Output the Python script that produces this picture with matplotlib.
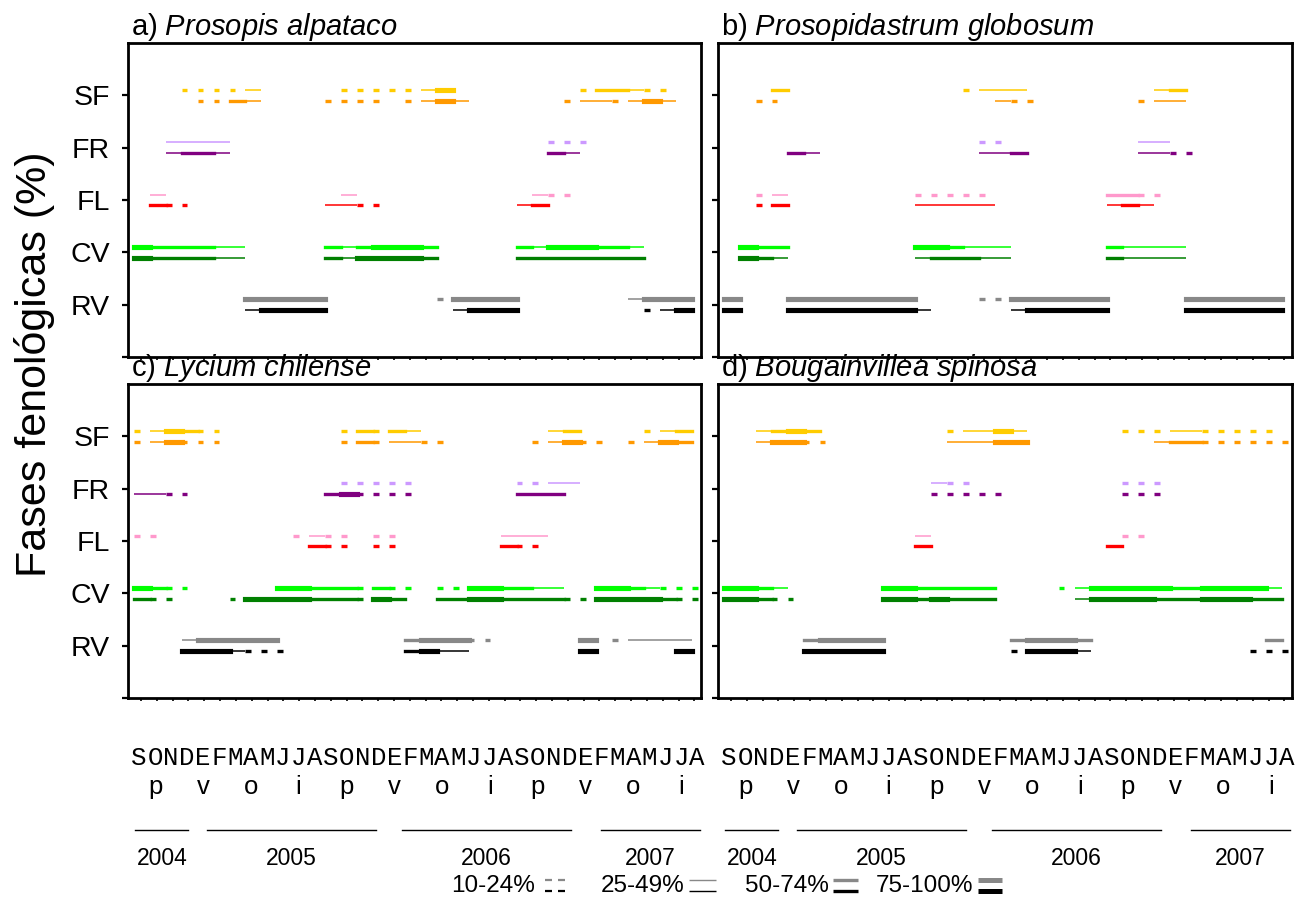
import numpy as np
import matplotlib
matplotlib.use("Agg")
import matplotlib.pyplot as plt
from matplotlib.lines import Line2D

plt.rcParams['font.family'] = ['Liberation Sans', 'DejaVu Sans']
plt.rcParams['mathtext.fontset'] = 'custom'
plt.rcParams['mathtext.rm'] = 'Liberation Sans'
plt.rcParams['mathtext.it'] = 'Liberation Sans:italic'

# ---------------- data ----------------
phases = ["RV", "CV", "FL", "FR", "SF"]
month_letters = list("SONDEFMAMJJASONDEFMAMJJASONDEFMAMJJA")
season_letters = ["p", "v", "o", "i"] * 3
years = ["2004", "2005", "2006", "2007"]
legend_labels = ["10-24%", "25-49%", "50-74%", "75-100%"]
panel_tags = ["a)", "b)", "c)", "d)"]
species = ["Prosopis alpataco", "Prosopidastrum globosum",
           "Lycium chilense", "Bougainvillea spinosa"]

# one character per monthly interval (Sep 2004 ... Aug 2007)
# '.' <10 %, '1' 10-24 %, '2' 25-49 %, '3' 50-74 %, '4' 75-100 %
# each phase: (upper line, lower line)
panel_a = {
    "SF": ("...111" "12...." ".11111" "24...." "....13" "3211..",
           "....11" "32...." "1111.1" "242..." "...122" "1242.."),
    "FR": ("..2222" "......" "......" "......" "..111." "......",
           "..2332" "......" "......" "......" "..32.." "......"),
    "FL": (".2...." "......" ".2...." "......" ".211.." "......",
           ".311.." "......" "2211.." "......" "23...." "......"),
    "CV": ("433332" "2....." "323444" "3....." "324443" "32....",
           "433332" "2....." "324444" "3....." "333333" "33...."),
    "RV": ("......" ".44444" "......" ".14444" "......" ".2444.",
           "......" ".24444" "......" "..2444" "......" "..124."),
}
panel_b = {
    "SF": ("...3.." "......" "...122" "2....." "...23." "......",
           "..11.." "......" ".....2" "11...." "..122." "......"),
    "FR": ("......" "......" "....11" "......" "..22.." "......",
           "....32" "......" "....22" "3....." "..2211" "......"),
    "FL": ("..12.." "......" "11111." "......" "3311.." "......",
           "..13.." "......" "22222." "......" "232..." "......"),
    "CV": (".433.." "......" "443222" "......" "32222." "......",
           ".432.." "......" "233322" "......" "32222." "......"),
    "RV": ("4...44" "444444" "....11" "444444" ".....4" "44444.",
           "4...44" "444444" "2....." "244444" ".....4" "44444."),
}
panel_c = {
    "SF": ("124311" "......" ".13132" "......" "..23.." "..123.",
           "124111" "......" ".13122" "11...." ".12411" ".1243."),
    "FR": ("......" "......" ".11111" "......" "1122.." "......",
           "2211.." "......" "341111" "......" "333..." "......"),
    "FL": ("11...." "....12" "11.11." ".....2" "22...." "......",
           "......" ".....3" "11.11." ".....3" "11...." "......"),
    "CV": ("4311.." "...443" "331311" ".11443" "322..4" "432111",
           "311..." "144443" "33143." ".33443" "333114" "444311"),
    "RV": ("...244" "444..." ".....3" "44411." "....4." "12222.",
           "...444" "2111.." ".....3" "422..." "....4." "....4."),
}
panel_d = {
    "SF": ("..2343" "......" "..1224" "2....." ".11122" "11111.",
           "..2441" "1....." "..2224" "4....." "...233" "111111"),
    "FR": ("......" "......" ".211.." "......" ".111.." "......",
           "......" "......" ".11111" "......" ".111.." "......"),
    "FL": ("......" "......" "2....." "......" ".11..." "......",
           "......" "......" "3....." "......" "3....." "......"),
    "CV": ("4432.." "....44" "33333." "...124" "444433" "44442.",
           "44311." "....44" "34333." "....24" "444333" "44433."),
    "RV": (".....3" "4444.." "......" "34443." "......" "....3.",
           ".....4" "4444.." "......" "14442." "......" "...111"),
}
panels = [panel_a, panel_b, panel_c, panel_d]

# ---------------- style ----------------
colors = {
    "SF": ("#FFCC00", "#FF9900"),
    "FR": ("#CC99FF", "#800080"),
    "FL": ("#FF99CC", "#FF0000"),
    "CV": ("#00FF00", "#008000"),
    "RV": ("#888888", "#000000"),
}
LW = {'2': 1.1, '3': 2.4, '4': 3.7}
DASH_LW = 2.4
DASH_LEN = 0.36
X_OFF = 0.4
ROW_OFF = 0.1

W, H = 1310, 898
fig = plt.figure(figsize=(W / 100, H / 100), dpi=100)

boxes = [(127.5, 43, 574, 314), (717.5, 43, 574, 314),
         (127.5, 384, 574, 314), (717.5, 384, 574, 314)]


def draw_row(ax, s, y, color):
    n = len(s)
    k = 0
    while k < n:
        c = s[k]
        if c == '.':
            k += 1
            continue
        if c == '1':
            x0 = k + X_OFF
            ax.plot([x0, x0 + DASH_LEN], [y, y], color=color, lw=DASH_LW,
                    solid_capstyle='butt')
            k += 1
            continue
        j = k
        while j < n and s[j] == c:
            j += 1
        ax.plot([k + X_OFF, j + X_OFF], [y, y], color=color, lw=LW[c],
                solid_capstyle='butt' if c == '2' else 'projecting')
        k = j


year_rule = [(0.5, 3.8), (5.0, 15.6), (17.2, 27.8), (29.7, 35.9)]
Y_MONTH, Y_SEASON, Y_RULE, Y_YEAR = -0.191, -0.283, -0.420, -0.510

for idx, (data, box) in enumerate(zip(panels, boxes)):
    l, t, w, h = box
    ax = fig.add_axes([l / W, 1 - (t + h) / H, w / W, h / H])
    ax.set_xlim(0, 36)
    ax.set_ylim(0, 6)
    for yi, ph in enumerate(phases, start=1):
        up, lo = data[ph]
        cu, cl = colors[ph]
        draw_row(ax, up, yi + ROW_OFF, cu)
        draw_row(ax, lo, yi - ROW_OFF, cl)
    for sp in ax.spines.values():
        sp.set_linewidth(2.0)
    ax.set_yticks(range(6))
    if idx in (0, 2):
        ax.set_yticklabels([""] + phases, fontsize=20.5)
    else:
        ax.set_yticklabels([])
    ax.tick_params(axis='y', direction='out', length=4.5, width=1.6, pad=8)
    ax.set_xticks(np.linspace(0.85, 35.55, 36))
    ax.set_xticklabels([])
    ax.tick_params(axis='x', direction='out', length=2.2, width=1.2)
    ax.text(0.006, 1 + 8 / h, panel_tags[idx] + r" $\it{" + species[idx].replace(" ", r"\ ") + "}$",
            transform=ax.transAxes, ha='left', va='baseline', fontsize=21)
    if idx >= 2:
        tr = ax.get_xaxis_transform()
        for i, m in enumerate(month_letters):
            ax.text(i + 0.73, Y_MONTH, m, transform=tr, ha='center', va='center',
                    fontsize=18.5, family='Liberation Mono', clip_on=False)
        for s_i, sl in enumerate(season_letters):
            ax.text(3 * s_i + 1.73, Y_SEASON, sl, transform=tr, ha='center',
                    va='center', fontsize=18.5, clip_on=False)
        for (x0, x1), yr in zip(year_rule, years):
            ax.add_line(Line2D([x0, x1], [Y_RULE, Y_RULE], transform=tr,
                               color='black', lw=1.0, clip_on=False))
            ax.text((x0 + x1) / 2, Y_YEAR, yr, transform=tr, ha='center',
                    va='center', fontsize=16.5, clip_on=False)

fig.text(35 / W, 1 - 364 / H, "Fases fenológicas (%)", rotation=90,
         ha='center', va='center', fontsize=31)

# legend
leg_text_x = [451, 601, 745, 876]
leg_sym = [(545, 566), (689, 716), (833, 858), (978, 1002)]
leg_y = 886
sym_lw = [1.6, 1.0, 2.4, 3.6]
for lab, tx, (s0, s1), lw_ in zip(legend_labels, leg_text_x, leg_sym, sym_lw):
    fig.text(tx / W, 1 - leg_y / H, lab, ha='left', va='center', fontsize=17.5)
    for yy, col in ((leg_y - 6, "#888888"), (leg_y + 5, "black")):
        if lab == legend_labels[0]:
            for a0 in (s0, s0 + 13):
                fig.add_artist(Line2D([a0 / W, (a0 + 7) / W], [1 - yy / H] * 2,
                                      color=col, lw=lw_, solid_capstyle='butt'))
        else:
            fig.add_artist(Line2D([s0 / W, s1 / W], [1 - yy / H] * 2,
                                  color=col, lw=lw_, solid_capstyle='butt'))

fig.savefig("out.png", dpi=100)
